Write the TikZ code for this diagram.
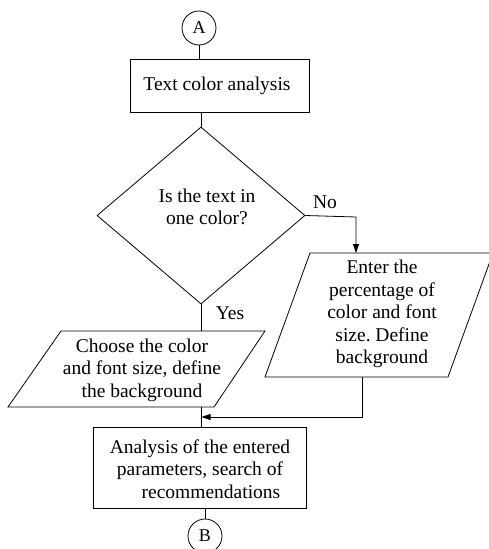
\documentclass[tikz,border=0pt]{standalone}
\usepackage{fontspec}
\setmainfont{Liberation Serif}
\usetikzlibrary{arrows.meta,shapes.geometric}
\frenchspacing
\begin{document}
\begin{tikzpicture}[x=1pt,y=-1pt,
  every node/.style={font=\fontsize{19.5}{22.5}\selectfont},
  shapeline/.style={draw=black,line width=0.8pt},
  conn/.style={draw=black,line width=0.8pt},
  arr/.style={conn,-{Triangle[length=9pt,width=6pt]}},
  txt/.style={align=center,inner sep=0pt},
  conncircle/.style={shapeline,circle,minimum size=34pt,inner sep=0pt,font=\fontsize{18}{20}\selectfont},
  lbl/.style={inner sep=0pt}]
\useasboundingbox (0,0) rectangle (489,549);
\fill[white] (0,0) rectangle (489,549);
% connector A
\node[conncircle] (A) at (199,28) {A};
% rect 1
\node[shapeline,minimum width=179pt,minimum height=53pt,inner sep=0pt] (r1) at (219.5,85.5) {};
\node[txt] (t1) at (217,86) {Text color analysis};
% diamond
\node[shapeline,diamond,minimum width=208pt,minimum height=177pt,aspect=1.175,inner sep=0pt] (d) at (201,215.5) {};
\node[txt] (td) at (207,207) {Is the text in\\one color?};
% left parallelogram
\coordinate (lp1) at (61,331);
\coordinate (lp2) at (265,331);
\coordinate (lp3) at (214,407);
\coordinate (lp4) at (8,407);
\draw[shapeline] (lp1) -- (lp2) -- (lp3) -- (lp4) -- cycle;
\node[txt] (tl) at (142,370) {Choose the color\\and font size, define\\the background};
% right parallelogram
\coordinate (rp1) at (310,253);
\coordinate (rp2) at (493,253);
\coordinate (rp3) at (448,377);
\coordinate (rp4) at (265,377);
\draw[shapeline] (rp1) -- (rp2) -- (rp3) -- (rp4) -- cycle;
\node[txt] (tr) at (382,314) {Enter the\\percentage of\\color and font\\size. Define\\background};
% bottom rect
\node[shapeline,minimum width=213pt,minimum height=81pt,inner sep=0pt] (r2) at (199.5,467.5) {};
\node[txt] (t2) at (200,469) {Analysis of the entered\\parameters, search of\\\hspace*{22pt}recommendations};
% connector B
\node[conncircle] (B) at (205,536) {B};
% connectors
\coordinate (rtop) at (199,59);
\draw[conn] (A.south) -- (rtop);
\coordinate (r1b) at (201,112);
\draw[conn] (r1b) -- (d.north);
\coordinate (lptop) at (201,331);
\draw[conn] (d.south) -- (lptop);
\coordinate (nocorner) at (356,217);
\coordinate (rptop) at (356,253);
\draw[arr] (d.east) -- (nocorner) -- (rptop);
\coordinate (lpbot) at (201,407);
\coordinate (r2top) at (201,427);
\draw[conn] (lpbot) -- (r2top);
\coordinate (rpbot) at (362,377);
\coordinate (mcorner) at (362,417);
\coordinate (merge) at (201.5,417);
\draw[arr] (rpbot) -- (mcorner) -- (merge);
\coordinate (r2b) at (205,508);
\draw[conn] (r2b) -- (B.north);
% labels
\node[lbl] (no) at (325,202) {No};
\node[lbl] (yes) at (230,313) {Yes};
\end{tikzpicture}
\end{document}
